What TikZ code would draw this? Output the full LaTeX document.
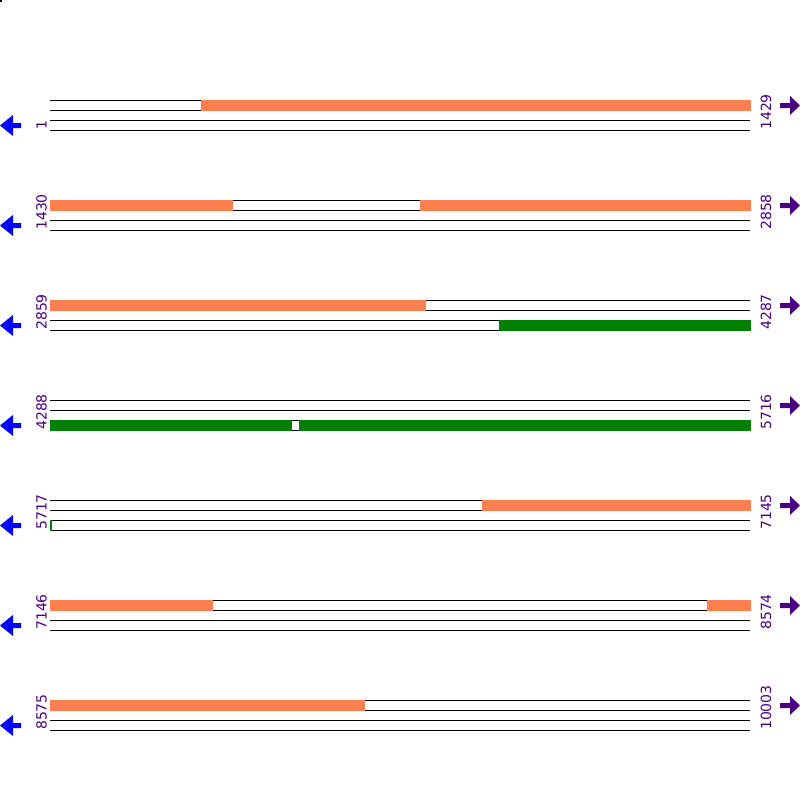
\documentclass[tikz,border=0pt]{standalone}
\usepackage{fontspec}
\setmainfont{DejaVu Sans}
\definecolor{cds}{HTML}{FF7F50}
\definecolor{gr}{HTML}{008000}
\definecolor{ind}{HTML}{4B0082}
\begin{document}
\begin{tikzpicture}[x=1pt,y=-1pt,
  trk/.style={draw=black,line width=1pt},
  orbar/.style={fill=cds},
  grbar/.style={fill=gr},
  lbl/.style={font=\fontsize{14}{14}\selectfont,text=ind,rotate=90,inner sep=0pt,anchor=base west},
  larrow/.style={fill=blue},
  rarrow/.style={fill=ind}]
\useasboundingbox[fill=white] (0,0) rectangle (800,800);
\fill (0,0) rectangle (2,2);
\foreach \r/\a/\b in {1/1/1429,2/1430/2858,3/2859/4287,4/4288/5716,5/5717/7145,6/7146/8574,7/8575/10003}{
  \pgfmathsetmacro{\Y}{100*\r}
  \foreach \d in {0,10,20,30}{\draw[trk] (50,\Y+\d) -- (750,\Y+\d);}
  \node[lbl] (s\r) at (46.5,\Y+30) {\a};
  \node[lbl] (e\r) at (771,\Y+30) {\b};
  \fill[larrow] (0,\Y+25.5) -- (13,\Y+15) -- (13,\Y+23) -- (21,\Y+23) -- (21,\Y+28) -- (13,\Y+28) -- (13,\Y+36) -- cycle;
  \fill[rarrow] (800,\Y+5.5) -- (790,\Y-4) -- (790,\Y+3) -- (780,\Y+3) -- (780,\Y+8) -- (790,\Y+8) -- (790,\Y+15) -- cycle;
}
% row 1
\fill[orbar] (201,99.5) rectangle (750.5,110.5);
% row 2
\fill[orbar] (49.5,199.5) rectangle (233,210.5);
\fill[orbar] (420,199.5) rectangle (750.5,210.5);
% row 3
\fill[orbar] (49.5,299.5) rectangle (426,310.5);
\fill[grbar] (499,319.5) rectangle (750.5,330.5);
% row 4
\fill[grbar] (49.5,419.5) rectangle (292,430.5);
\fill[grbar] (299,419.5) rectangle (750.5,430.5);
% row 5
\fill[orbar] (482,499.5) rectangle (750.5,510.5);
\fill[grbar] (49.5,519.5) rectangle (52,530.5);
% row 6
\fill[orbar] (49.5,599.5) rectangle (213,610.5);
\fill[orbar] (707,599.5) rectangle (750.5,610.5);
% row 7
\fill[orbar] (49.5,699.5) rectangle (365,710.5);
\end{tikzpicture}
\end{document}
